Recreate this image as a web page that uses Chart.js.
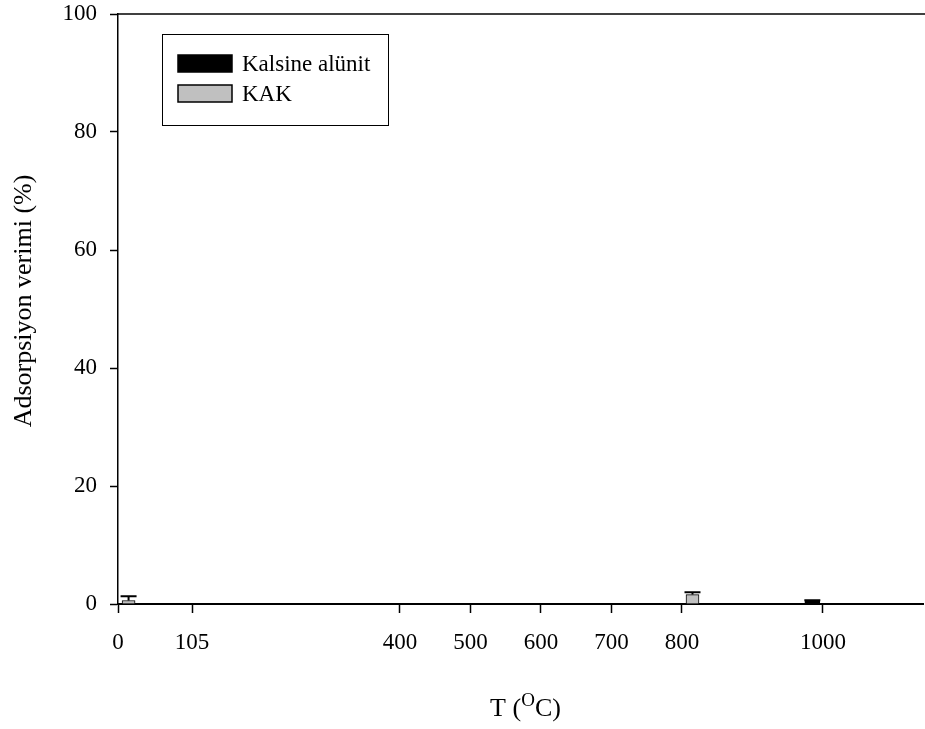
<!DOCTYPE html>
<html>
<head>
<meta charset="utf-8">
<script src="https://cdn.jsdelivr.net/npm/chart.js@4.4.1/dist/chart.umd.min.js"></script>
<style>
  html, body { margin: 0; padding: 0; background: #ffffff; }
  #wrap { width: 925px; height: 729px; position: relative; }
</style>
</head>
<body>
<div id="wrap"><canvas id="c" width="925" height="729"></canvas></div>
<script>
// ---- data ----
const xTickValues = [0, 105, 400, 500, 600, 700, 800, 1000];
const yTickValues = [0, 20, 40, 60, 80, 100];
const seriesNames = ["Kalsine alünit", "KAK"];
const kalsineX = [985];
const kalsineY = [0.5];
const kalsineErr = [0.15];
const kakX = [15, 815];
const kakY = [0.6, 1.6];
const kakErr = [0.7, 0.4];
const xTitleMain = "T (";
const xTitleSup = "O";
const xTitleEnd = "C)";
const yTitle = "Adsorpsiyon verimi (%)";

const FONT = "'Liberation Serif', 'Times New Roman', serif";

function pts(xs, ys) { return xs.map((x, i) => ({ x: x, y: ys[i] })); }

const errPlugin = {
  id: 'errbars',
  afterDatasetsDraw(chart) {
    const ctx = chart.ctx;
    const xs = chart.scales.x, ys = chart.scales.y;
    ctx.save();
    ctx.strokeStyle = '#000';
    ctx.lineWidth = 2;
    chart.data.datasets.forEach(ds => {
      (ds.err || []).forEach((e, i) => {
        const p = ds.data[i];
        const px = xs.getPixelForValue(p.x);
        const y0 = ys.getPixelForValue(p.y);
        const y1 = ys.getPixelForValue(p.y + e);
        const half = 8;
        ctx.beginPath();
        ctx.moveTo(px, y0); ctx.lineTo(px, y1);
        ctx.moveTo(px - half, y1); ctx.lineTo(px + half, y1);
        ctx.stroke();
      });
    });
    ctx.restore();
  }
};

const framePlugin = {
  id: 'frame',
  afterDraw(chart) {
    const ctx = chart.ctx;
    const a = chart.chartArea;
    ctx.save();
    // top frame line
    ctx.strokeStyle = '#000';
    ctx.lineWidth = 1.5;
    ctx.beginPath();
    ctx.moveTo(a.left, a.top); ctx.lineTo(chart.width, a.top);
    ctx.stroke();
    // legend box
    const lx = a.left + 44, ly = a.top + 20, lw = 226, lh = 91;
    ctx.lineWidth = 1;
    ctx.strokeRect(lx + 0.5, ly + 0.5, lw, lh);
    const sw = 54, sh = 17;
    const items = [
      { name: seriesNames[0], fill: '#000000' },
      { name: seriesNames[1], fill: '#c0c0c0' }
    ];
    ctx.font = "23px " + FONT;
    ctx.textBaseline = 'middle';
    ctx.fillStyle = '#000';
    items.forEach((it, i) => {
      const sy = ly + 21 + i * 30;
      ctx.fillStyle = it.fill;
      ctx.fillRect(lx + 16, sy, sw, sh);
      ctx.strokeStyle = '#000';
      ctx.lineWidth = 1.5;
      ctx.strokeRect(lx + 16, sy, sw, sh);
      ctx.fillStyle = '#000';
      ctx.textAlign = 'left';
      ctx.fillText(it.name, lx + 80, sy + sh / 2 + 1);
    });
    // y title (rotated)
    ctx.save();
    ctx.translate(24, (a.top + a.bottom) / 2 - 8);
    ctx.rotate(-Math.PI / 2);
    ctx.font = "26px " + FONT;
    ctx.textAlign = 'center';
    ctx.textBaseline = 'middle';
    ctx.fillStyle = '#000';
    ctx.fillText(yTitle, 0, 0);
    ctx.restore();
    // x title with superscript
    const cx = (a.left + a.right) / 2 + 5;
    const by = 716;
    ctx.textAlign = 'left';
    ctx.textBaseline = 'alphabetic';
    const f1 = "26px " + FONT, f2 = "19px " + FONT;
    ctx.font = f1;
    const w1 = ctx.measureText(xTitleMain).width;
    const w3 = ctx.measureText(xTitleEnd).width;
    ctx.font = f2;
    const w2 = ctx.measureText(xTitleSup).width;
    let x0 = cx - (w1 + w2 + w3) / 2;
    ctx.font = f1; ctx.fillText(xTitleMain, x0, by);
    ctx.font = f2; ctx.fillText(xTitleSup, x0 + w1, by - 10);
    ctx.font = f1; ctx.fillText(xTitleEnd, x0 + w1 + w2, by);
    ctx.restore();
  }
};

new Chart(document.getElementById('c'), {
  type: 'bar',
  data: {
    datasets: [
      {
        label: seriesNames[0],
        data: pts(kalsineX, kalsineY),
        err: kalsineErr,
        backgroundColor: '#000000',
        borderColor: '#000000',
        borderWidth: 1,
        barThickness: 15
      },
      {
        label: seriesNames[1],
        data: pts(kakX, kakY),
        err: kakErr,
        backgroundColor: '#c0c0c0',
        borderColor: '#000000',
        borderWidth: 1,
        barThickness: 13
      }
    ]
  },
  options: {
    responsive: false,
    animation: false,
    grouped: false,
    layout: { padding: { left: 0, right: 2, top: 14, bottom: 0 } },
    plugins: { legend: { display: false }, tooltip: { enabled: false } },
    scales: {
      x: {
        type: 'linear',
        min: 0,
        max: 1142,
        offset: false,
        afterBuildTicks: s => { s.ticks = xTickValues.map(v => ({ value: v })); },
        afterFit: s => { s.height = 125; s.paddingLeft = 0; s.paddingRight = 0; },
        ticks: {
          autoSkip: false,
          maxRotation: 0,
          color: '#000',
          font: { family: FONT, size: 23 },
          padding: 16,
          callback: v => String(v)
        },
        grid: { offset: false, drawOnChartArea: false, drawTicks: true, tickLength: 9, tickColor: '#000', tickWidth: 1.5 },
        border: { display: true, color: '#000', width: 2 }
      },
      y: {
        min: 0,
        max: 100,
        afterBuildTicks: s => { s.ticks = yTickValues.map(v => ({ value: v })); },
        afterFit: s => { s.width = 118; s.paddingTop = 0; s.paddingBottom = 0; },
        ticks: {
          color: '#000',
          font: { family: FONT, size: 23 },
          padding: 13
        },
        title: { display: false },
        grid: { offset: false, drawOnChartArea: false, drawTicks: true, tickLength: 8, tickColor: '#000', tickWidth: 1.5 },
        border: { display: true, color: '#000', width: 1.5 }
      }
    }
  },
  plugins: [errPlugin, framePlugin]
});
</script>
</body>
</html>
